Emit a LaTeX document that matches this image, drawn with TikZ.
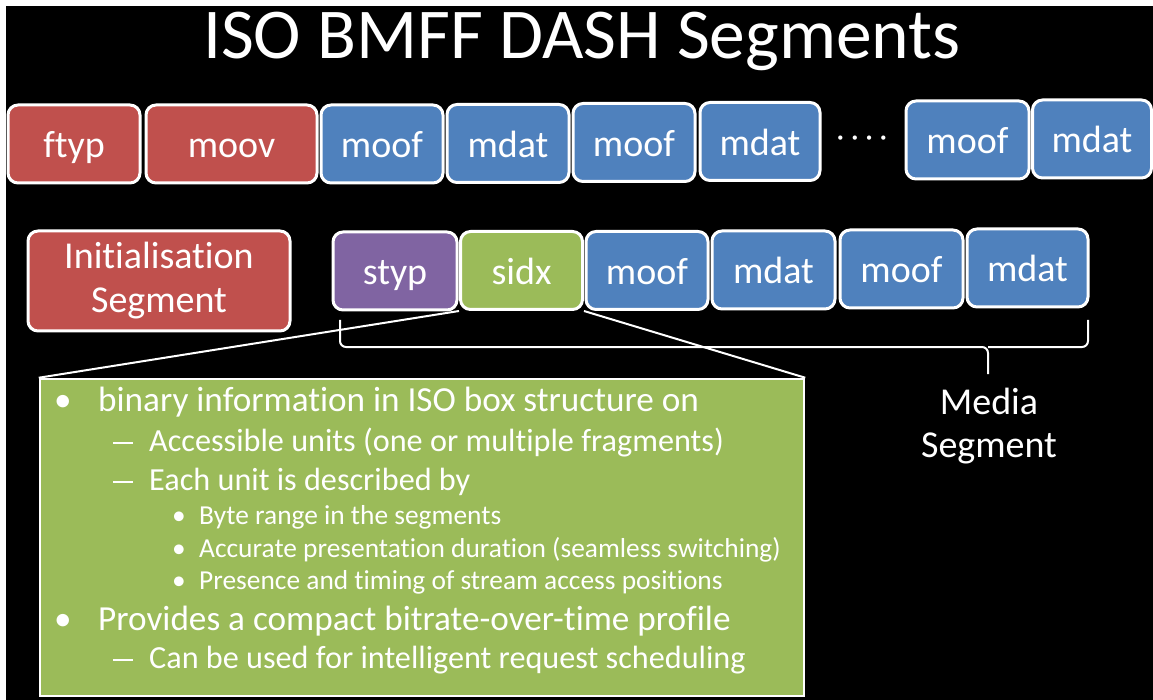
\documentclass[tikz,border=0pt]{standalone}
\usepackage{fontspec}
\setmainfont{Carlito}[RawFeature={-liga;-clig;-calt;-dlig}]
\definecolor{boxred}{HTML}{C0504D}
\definecolor{boxblue}{HTML}{4F81BD}
\definecolor{boxpurple}{HTML}{8064A2}
\definecolor{boxgreen}{HTML}{9BBB59}
\newcommand{\subdash}{\rule[0.22em]{0.62em}{0.065em}}
\begin{document}
\begin{tikzpicture}[x=1pt,y=-1pt,
  seg/.style={draw=white, line width=3pt, rounded corners=10pt, text=white,
    font=\fontsize{38}{44}\selectfont, inner sep=0pt,
    text height=28pt, text depth=0pt, minimum height=78pt},
  redbox/.style={seg, fill=boxred},
  bluebox/.style={seg, fill=boxblue},
  purplebox/.style={seg, fill=boxpurple},
  greenbox/.style={seg, fill=boxgreen},
  label/.style={text=white, font=\fontsize{38}{43}\selectfont, align=center, inner sep=0pt},
  lvlone/.style={anchor=base west, inner sep=0pt, text=white, font=\fontsize{35.2}{40}\selectfont},
  lvltwo/.style={anchor=base west, inner sep=0pt, text=white, font=\fontsize{32.2}{36}\selectfont},
  lvlthree/.style={anchor=base west, inner sep=0pt, text=white, font=\fontsize{27.4}{30}\selectfont},
  link/.style={draw=white, line width=2pt},
]
\useasboundingbox (0,0) rectangle (1153,700);
\fill[white] (0,0) rectangle (1153,700);
\fill[black] (6,6) rectangle (1153,700);

% title
\node[anchor=base, text=white, inner sep=0pt, font=\fontsize{71.5}{80}\selectfont]
  (title) at (582,59) {ISO BMFF DASH Segments};

% file layout: header boxes followed by fragments
\node[redbox, minimum width=132pt] (ftyp) at (74,144) {ftyp};
\node[redbox, minimum width=171pt] (moov) at (231.5,144) {moov};
\node[bluebox, minimum width=122pt] (moofa) at (382,144) {moof};
\node[bluebox, minimum width=122pt] (mdata) at (508,143.5) {mdat};
\node[bluebox, minimum width=122pt] (moofb) at (634,142.5) {moof};
\node[bluebox, minimum width=120pt] (mdatb) at (760,141.5) {mdat};
\node[text=white, inner sep=0pt, font=\fontsize{30}{30}\selectfont] (dots) at (862,141) {· · · ·};
\node[bluebox, minimum width=123pt] (moofc) at (967.5,140) {moof};
\node[bluebox, minimum width=119pt] (mdatc) at (1092,139) {mdat};

% segments
\node[redbox, minimum width=262pt, minimum height=100pt, text height=, text depth=, align=center,
  font=\fontsize{38}{44}\selectfont] (init) at (159,281) {Initialisation\\Segment};
\node[purplebox, minimum width=124pt] (styp) at (395,271) {styp};
\node[greenbox, minimum width=122pt] (sidx) at (521.5,270.5) {sidx};
\node[bluebox, minimum width=122pt] (moofd) at (647,270.5) {moof};
\node[bluebox, minimum width=123pt] (mdatd) at (773.5,270) {mdat};
\node[bluebox, minimum width=123pt] (moofe) at (901.5,269) {moof};
\node[bluebox, minimum width=121pt] (mdate) at (1027.5,268) {mdat};

% brace under the media segment
\coordinate (brl) at (340,320);
\coordinate (brr) at (1088,320);
\coordinate (brtip) at (988,374);
\draw[link, rounded corners=6pt] (brl) |- (brtip |- 0,347) -- (brtip);
\draw[link, rounded corners=6pt] (brr) |- (brtip |- 0,347);
\node[label] (media) at (989,426) {Media\\Segment};

% sidx detail box
\node[draw=white, line width=2.5pt, fill=boxgreen, minimum width=764pt, minimum height=317pt,
  inner sep=0pt] (detail) at (422,537.5) {};
\draw[link] (sidx.south west) -- (detail.north west);
\draw[link] (sidx.south east) -- (detail.north east);

\node[lvlone] (l1) at (54,411) {\makebox[44pt][l]{•}binary information in ISO box structure on};
\node[lvltwo] (l2) at (113,451) {\makebox[36pt][l]{\subdash}Accessible units (one or multiple fragments)};
\node[lvltwo] (l3) at (113,490) {\makebox[36pt][l]{\subdash}Each unit is described by};
\node[lvlthree] (l4) at (172,524) {\makebox[27pt][l]{•}Byte range in the segments};
\node[lvlthree] (l5) at (172,557) {\makebox[27pt][l]{•}Accurate presentation duration (seamless switching)};
\node[lvlthree] (l6) at (172,589) {\makebox[27pt][l]{•}Presence and timing of stream access positions};
\node[lvlone] (l7) at (54,630) {\makebox[44pt][l]{•}Provides a compact bitrate-over-time profile};
\node[lvltwo] (l8) at (113,668) {\makebox[36pt][l]{\subdash}Can be used for intelligent request scheduling};
\end{tikzpicture}
\end{document}
